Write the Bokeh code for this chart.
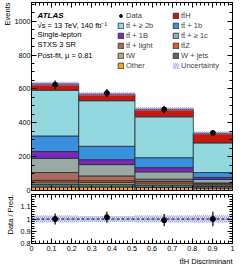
import numpy as np
from bokeh.plotting import figure
from bokeh.layouts import column
from bokeh.models import (Range1d, LinearAxis, FixedTicker, Label, Legend,
                          LegendItem, Span, ColumnDataSource, Title)
from bokeh.embed import file_html
from bokeh.resources import INLINE

# ---------------- data ----------------
edges = [0.0, 0.235, 0.515, 0.805, 1.0]
other = [20, 20, 18, 14]
wjets = [18, 16, 15, 12]
tw = [12, 11, 11, 7]
ttz = [10, 11, 10, 7]
ttlight = [46, 28, 13, 5]
tt1c = [84, 67, 43, 20]
tt1B = [40, 29, 25, 12]
tt1b = [92, 79, 59, 29]
tt2b = [270, 269, 241, 175]
tth = [38, 40, 46, 58]
data = [625, 575, 478, 339]
data_err = [25, 24, 22, 18]
unc = [12, 11, 10, 9]
ratio = [1.0, 1.015, 0.99, 1.0]
ratio_err = [0.045, 0.045, 0.05, 0.06]
ratio_unc = [0.028, 0.025, 0.028, 0.03]

main_yticks = [0, 200, 400, 600, 800, 1000]
ratio_yticks = [0.8, 0.9, 1.0, 1.1]
xticks = [0.0, 0.1, 0.2, 0.3, 0.4, 0.5, 0.6, 0.7, 0.8, 0.9, 1.0]

stack = [
    ("Other", other, "#f5a623"),
    ("W + jets", wjets, "#5f666e"),
    ("tW", tw, "#b9ab6e"),
    ("tt̄Z", ttz, "#e65c10"),
    ("tt̄ + light", ttlight, "#ad6b5f"),
    ("tt̄ + ≥ 1c", tt1c, "#98a8a2"),
    ("tt̄ + 1B", tt1B, "#7b2ab8"),
    ("tt̄ + 1b", tt1b, "#3a8fde"),
    ("tt̄ + ≥ 2b", tt2b, "#93d8df"),
    ("tt̄H", tth, "#c41a0e"),
]

FONT = "Liberation Sans"
FS = "7.5px"
TFS = "7.2px"
EDGE = "#1e2d3a"
HATCH = "#6f72e6"

left = np.array(edges[:-1])
right = np.array(edges[1:])
centers = (left + right) / 2


def style_axis(ax, labels=True, ticker=None):
    if ticker is not None:
        ax.ticker = ticker
    ax.major_tick_in = 5
    ax.major_tick_out = 0
    ax.minor_tick_in = 3
    ax.minor_tick_out = 0
    ax.axis_line_color = "black"
    ax.major_tick_line_color = "black"
    ax.minor_tick_line_color = "black"
    ax.major_label_text_font = FONT
    if labels:
        ax.major_label_text_color = "black"
        ax.major_label_text_font_size = TFS
        ax.major_label_standoff = 2
    else:
        ax.major_label_text_color = None
        ax.major_label_text_font_size = "0px"
        ax.major_label_standoff = 0


def side_title(text, align, standoff):
    return Title(text=text, align=align, standoff=standoff, offset=0,
                 text_font=FONT, text_font_size=FS, text_font_style="normal",
                 text_color="black")


def xticker():
    return FixedTicker(ticks=xticks, minor_ticks=list(np.round(np.arange(0, 1.0001, 0.02), 3)))


# ---------------- main plot ----------------
p = figure(frame_width=201, frame_height=188, x_range=Range1d(0, 1),
           y_range=Range1d(0, 1110), output_backend="svg", toolbar_location=None,
           min_border_left=26, min_border_right=10, min_border_top=2,
           min_border_bottom=4)
p.xgrid.visible = False
p.ygrid.visible = False
p.outline_line_color = "black"
p.background_fill_color = "white"

main_yt = lambda: FixedTicker(ticks=main_yticks, minor_ticks=list(range(0, 1111, 50)))
style_axis(p.yaxis[0], True, main_yt())
p.yaxis[0].major_label_standoff = 1
p.add_layout(side_title("Events", "right", 0), "left")
style_axis(p.xaxis[0], False, xticker())
ax_r = LinearAxis()
style_axis(ax_r, False, main_yt())
p.add_layout(ax_r, "right")
ax_t = LinearAxis()
style_axis(ax_t, False, xticker())
p.add_layout(ax_t, "above")

renderers = {}
bottom = np.zeros(4)
for name, vals, col in stack:
    top = bottom + np.array(vals)
    src = ColumnDataSource(dict(left=left, right=right, bottom=bottom.copy(), top=top))
    rq = p.quad(left="left", right="right", bottom="bottom", top="top", source=src,
                fill_color=col, line_color=EDGE, line_width=0.8)
    renderers[name] = rq
    bottom = top
total = bottom

ub = p.quad(left=left, right=right, bottom=total - np.array(unc), top=total + np.array(unc),
            fill_color="#c8caf5", fill_alpha=0.25, line_color=None,
            hatch_pattern="/", hatch_color=HATCH, hatch_scale=4, hatch_weight=0.7)

d = np.array(data)
de = np.array(data_err)
p.segment(x0=centers, x1=centers, y0=d - de, y1=d + de, line_color="black", line_width=1.2)
dr = p.scatter(x=centers, y=d, size=5, color="black")

leg_common = dict(border_line_color=None, background_fill_alpha=0, padding=0, margin=0,
                  spacing=0, label_standoff=2, glyph_width=7, glyph_height=7,
                  label_height=10, label_text_font=FONT, label_text_font_size=FS)
left_items = [LegendItem(label="Data", renderers=[dr])] + [
    LegendItem(label=n, renderers=[renderers[n]]) for n in
    ["tt̄ + ≥ 2b", "tt̄ + 1B", "tt̄ + light", "tW", "Other"]]
right_items = [LegendItem(label=n, renderers=[renderers[n]]) for n in
               ["tt̄H", "tt̄ + 1b", "tt̄ + ≥ 1c", "tt̄Z", "W + jets"]] + [
    LegendItem(label="Uncertainty", renderers=[ub])]
p.add_layout(Legend(items=left_items, location=(86, 120), **leg_common))
p.add_layout(Legend(items=right_items, location=(141, 120), **leg_common))

txt = dict(text_font=FONT, text_font_size=FS, text_baseline="middle", text_color="black")
p.add_layout(Label(x=0.03, y=1035, text="ATLAS", text_font_style="bold italic",
                   **{**txt, "text_font_size": "8px"}))
p.add_layout(Label(x=0.03, y=976, text="√s = 13 TeV, 140 fb⁻¹", **txt))
p.add_layout(Label(x=0.03, y=919, text="Single-lepton", **txt))
p.add_layout(Label(x=0.03, y=860, text="STXS 3 SR", **txt))
p.add_layout(Label(x=0.03, y=800, text="Post-fit, μ = 0.81", **txt))

# ---------------- ratio plot ----------------
r = figure(frame_width=201, frame_height=49, x_range=Range1d(0, 1),
           y_range=Range1d(0.8, 1.2), output_backend="svg", toolbar_location=None,
           min_border_left=26, min_border_right=10, min_border_top=0,
           min_border_bottom=28)
r.xgrid.visible = False
r.ygrid.visible = False
r.outline_line_color = "black"
ratio_yt = lambda: FixedTicker(ticks=ratio_yticks,
                               minor_ticks=list(np.round(np.arange(0.8, 1.2001, 0.02), 3)))
style_axis(r.yaxis[0], True, ratio_yt())
r.yaxis[0].major_label_standoff = 1
r.yaxis[0].major_label_overrides = {1: "1"}
r.add_layout(side_title("Data / Pred.", "right", 6), "left")
style_axis(r.xaxis[0], True, xticker())
r.xaxis[0].major_label_overrides = {0: "0", 1: "1"}
r.add_layout(side_title("tt̄H Discriminant", "right", 3), "below")
rr = LinearAxis()
style_axis(rr, False, ratio_yt())
r.add_layout(rr, "right")
rt = LinearAxis()
style_axis(rt, False, xticker())
r.add_layout(rt, "above")

ru = np.array(ratio_unc)
r.quad(left=left, right=right, bottom=1 - ru, top=1 + ru,
       fill_color="#c8caf5", fill_alpha=0.25, line_color=None,
       hatch_pattern="/", hatch_color=HATCH, hatch_scale=4, hatch_weight=0.7)
r.add_layout(Span(location=1.0, dimension="width", line_color="black", line_width=1,
                  line_dash="3 2"))
rv = np.array(ratio)
re_ = np.array(ratio_err)
r.segment(x0=centers, x1=centers, y0=rv - re_, y1=rv + re_, line_color="black", line_width=1.2)
r.scatter(x=centers, y=rv, size=5, color="black")

layout = column(p, r)
open("out.html", "w").write(file_html(layout, INLINE))
